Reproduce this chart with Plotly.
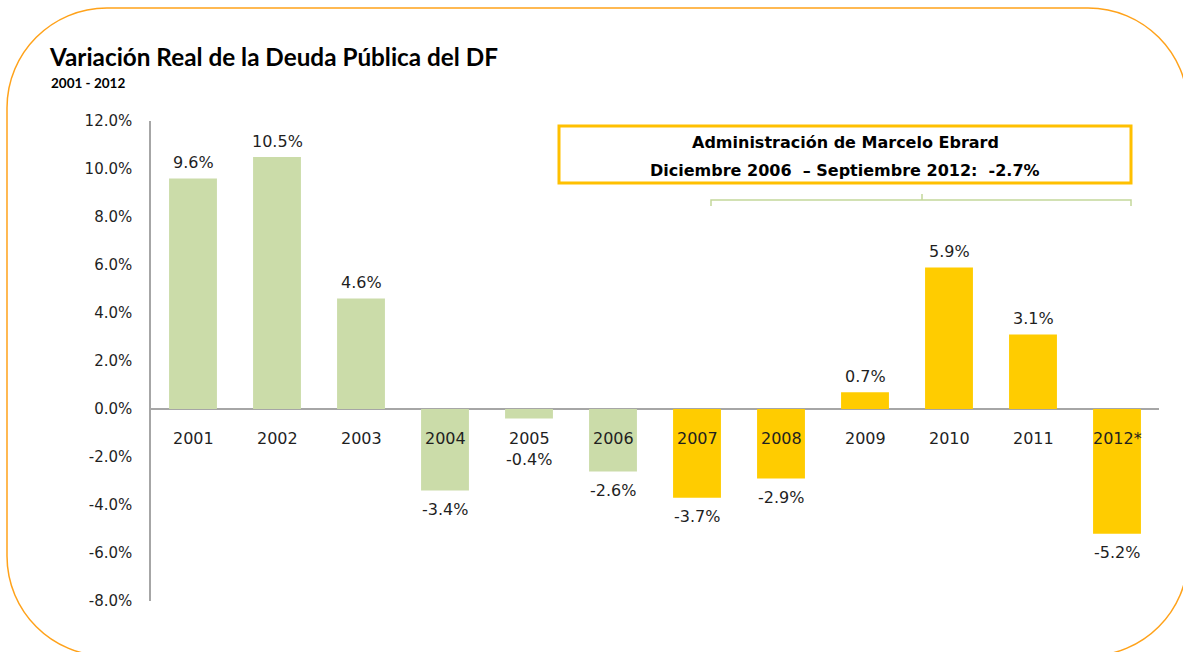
import plotly.graph_objects as go

# ---------------- data ----------------
years = ["2001", "2002", "2003", "2004", "2005", "2006",
         "2007", "2008", "2009", "2010", "2011", "2012*"]
values = [9.6, 10.5, 4.6, -3.4, -0.4, -2.6, -3.7, -2.9, 0.7, 5.9, 3.1, -5.2]
y_ticks = [-8, -6, -4, -2, 0, 2, 4, 6, 8, 10, 12]
admin_first_index = 6  # 2007 onwards: Ebrard administration

title_text = "Variación Real de la Deuda Pública del DF"
subtitle_text = "2001 - 2012"
box_line1 = "Administración de Marcelo Ebrard"
box_line2 = "Diciembre 2006  – Septiembre 2012:  -2.7%"

# ---------------- style ----------------
GREEN = "#CBDCA9"
GOLD = "#FFCC00"
BOX_GOLD = "#FFC000"
BRACKET = "#C4D79B"
ORANGE = "#FFA21A"
AXIS = "#A6A6A6"
TXT = "#1F1F1F"
FONT = "DejaVu Sans"

W, H = 1183, 652
L_M, R_M, T_M, B_M = 151, 24, 121, 51
PW, PH = W - L_M - R_M, H - T_M - B_M


def px_x(px):
    return (px - L_M) / PW


def px_y(py):
    return (H - B_M - py) / PH


colors = [GREEN if i < admin_first_index else GOLD for i in range(len(years))]
xpos = list(range(len(years)))

fig = go.Figure()
fig.add_trace(go.Bar(x=xpos, y=values, marker_color=colors,
                     marker_line_width=0, hoverinfo="skip"))

annotations = []
# category labels sitting under the zero line
for i, yr in enumerate(years):
    annotations.append(dict(x=i, y=0, xref="x", yref="y", text=yr,
                            showarrow=False, yshift=-29, yanchor="middle",
                            font=dict(family=FONT, size=16, color=TXT)))
# value labels
for i, v in enumerate(values):
    if v >= 0:
        yy, ys = v, 16
    else:
        yy, ys = min(v, -1.3), -19
    annotations.append(dict(x=i, y=yy, xref="x", yref="y", text=f"{v:.1f}%",
                            showarrow=False, yshift=ys, yanchor="middle",
                            font=dict(family=FONT, size=16, color=TXT)))
# box texts
annotations.append(dict(x=px_x(845), y=px_y(143), xref="paper", yref="paper",
                        text=box_line1, showarrow=False, xanchor="center", yanchor="middle",
                        font=dict(family=FONT, size=16, color="#000000", weight="bold")))
annotations.append(dict(x=px_x(845), y=px_y(170), xref="paper", yref="paper",
                        text=box_line2, showarrow=False, xanchor="center", yanchor="middle",
                        font=dict(family=FONT, size=16, color="#000000", weight="bold")))
# subtitle
annotations.append(dict(x=px_x(49), y=px_y(83), xref="paper", yref="paper",
                        text=subtitle_text, showarrow=False, xanchor="left", yanchor="middle",
                        font=dict(family="Lato", size=13.5, color="#000000", weight="bold")))

shapes = []
# annotation box
shapes.append(dict(type="rect", xref="paper", yref="paper",
                   x0=px_x(559), x1=px_x(1131), y0=px_y(183), y1=px_y(126),
                   line=dict(color=BOX_GOLD, width=3), fillcolor="rgba(0,0,0,0)"))
# bracket
bx0, bx1, bxm, by, btip, bup = 711, 1131, 922, 200, 206, 194
shapes.append(dict(type="path", xref="paper", yref="paper",
                   path=(f"M {px_x(bx0)},{px_y(btip)} L {px_x(bx0)},{px_y(by)} "
                         f"L {px_x(bx1)},{px_y(by)} L {px_x(bx1)},{px_y(btip)} "
                         f"M {px_x(bxm)},{px_y(by)} L {px_x(bxm)},{px_y(bup)}"),
                   line=dict(color=BRACKET, width=1.5)))

# rounded outer frame
fl, ft, fr, fb, rad = 7, 8, 1188, 656, 100
k = 0.5523 * rad


def P(x, y):
    return f"{px_x(x)},{px_y(y)}"


frame = (f"M {P(fl, ft + rad)} "
         f"C {P(fl, ft + rad - k)} {P(fl + rad - k, ft)} {P(fl + rad, ft)} "
         f"L {P(fr - rad, ft)} "
         f"C {P(fr - rad + k, ft)} {P(fr, ft + rad - k)} {P(fr, ft + rad)} "
         f"L {P(fr, fb - rad)} "
         f"C {P(fr, fb - rad + k)} {P(fr - rad + k, fb)} {P(fr - rad, fb)} "
         f"L {P(fl + rad, fb)} "
         f"C {P(fl + rad - k, fb)} {P(fl, fb - rad + k)} {P(fl, fb - rad)} Z")
shapes.append(dict(type="path", xref="paper", yref="paper", path=frame,
                   line=dict(color=ORANGE, width=1.5), fillcolor="rgba(0,0,0,0)",
                   layer="below"))

fig.update_layout(
    width=W, height=H,
    margin=dict(l=L_M, r=R_M, t=T_M, b=B_M),
    paper_bgcolor="white", plot_bgcolor="white",
    showlegend=False,
    bargap=0.43,
    title=dict(text=f"<b>{title_text}</b>", x=50 / W, y=1 - 57 / H,
               xanchor="left", yanchor="middle", xref="container", yref="container",
               font=dict(family="Lato", size=24.3, color="#000000")),
    xaxis=dict(range=[-0.5, len(years) - 0.5], showticklabels=False,
               showline=False, showgrid=False, zeroline=False, ticks=""),
    yaxis=dict(range=[-8, 12], tickvals=y_ticks, ticktext=[f"{t:.1f}%" for t in y_ticks],
               showgrid=False, zeroline=True, zerolinecolor=AXIS, zerolinewidth=1.5,
               showline=True, linecolor=AXIS, linewidth=1.5, ticks="",
               ticklabelstandoff=14,
               tickfont=dict(family=FONT, size=15, color=TXT)),
    annotations=annotations,
    shapes=shapes,
)

fig.write_html("out.html", config={"displayModeBar": False},
               post_script="document.body.style.margin='0px';")
